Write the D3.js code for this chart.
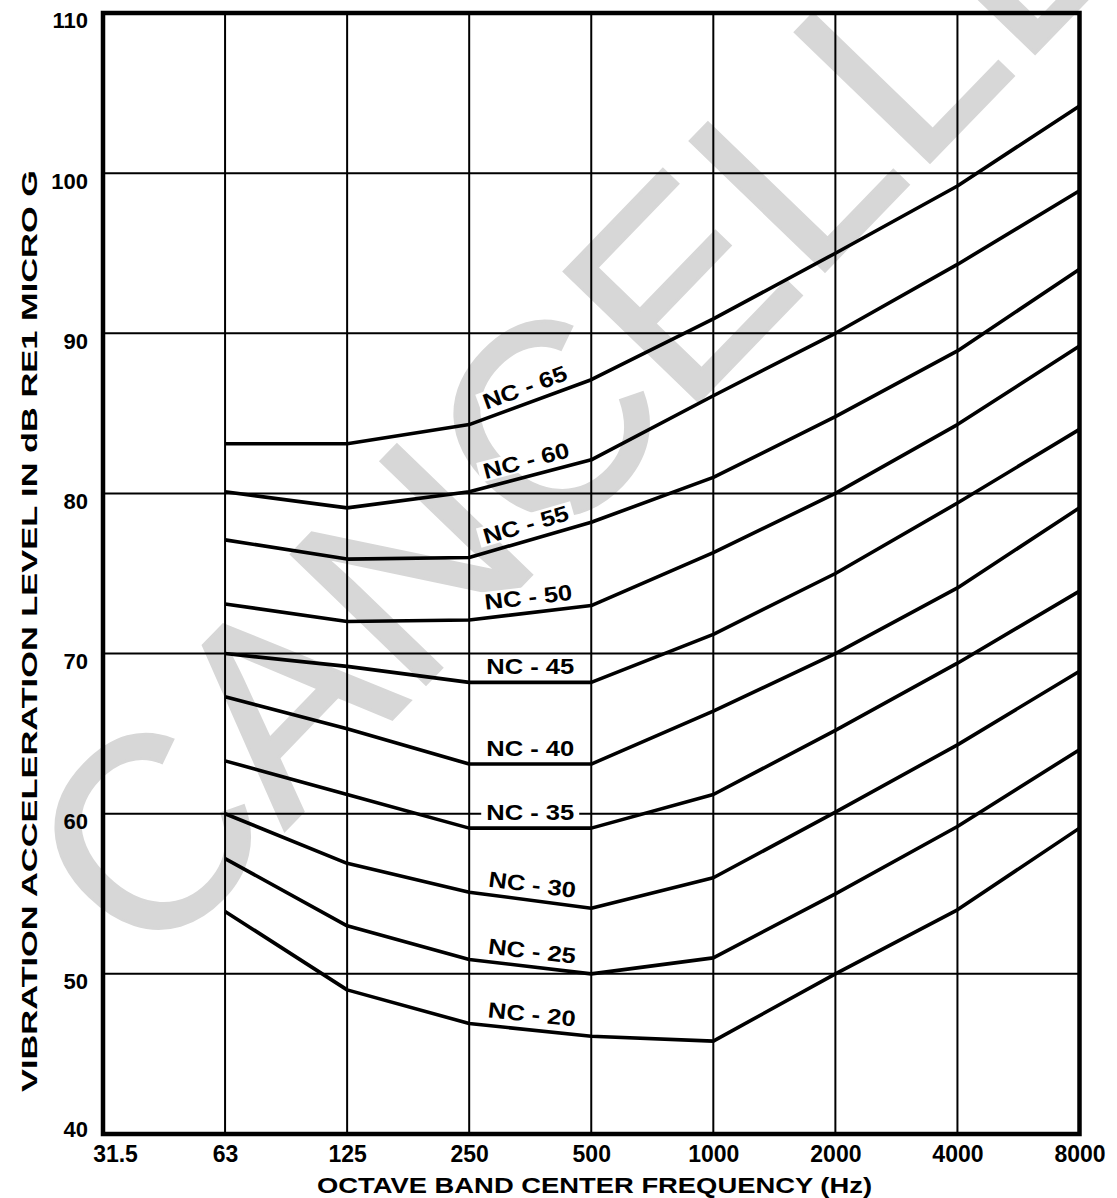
<!DOCTYPE html>
<html>
<head>
<meta charset="utf-8">
<script src="https://cdn.jsdelivr.net/npm/d3@7/dist/d3.min.js"></script>
<style>
  html, body { margin: 0; padding: 0; background: #fff; }
  svg { display: block; }
  text { font-family: "Liberation Sans", Arial, Helvetica, sans-serif; }
</style>
</head>
<body>
<svg id="chart" width="1117" height="1198"></svg>
<script>
// ---------- data ----------
const freqLabels = ["31.5", "63", "125", "250", "500", "1000", "2000", "4000", "8000"];
const curveFreqs = ["63", "125", "250", "500", "1000", "2000", "4000", "8000"];
const yTicks = [40, 50, 60, 70, 80, 90, 100, 110];

const nc20 = [53.9, 49.0, 46.9, 46.1, 45.8, 50.0, 54.0, 59.1];
const nc25 = [57.2, 53.0, 50.9, 50.0, 51.0, 55.0, 59.2, 64.0];
const nc30 = [60.0, 56.9, 55.1, 54.1, 56.0, 60.1, 64.3, 68.9];
const nc35 = [63.3, 61.2, 59.1, 59.1, 61.2, 65.2, 69.4, 73.9];
const nc40 = [67.3, 65.3, 63.1, 63.1, 66.4, 70.0, 74.1, 79.1];
const nc45 = [70.0, 69.2, 68.2, 68.2, 71.2, 75.0, 79.4, 84.0];
const nc50 = [73.1, 72.0, 72.1, 73.0, 76.3, 80.0, 84.3, 89.2];
const nc55 = [77.1, 75.9, 76.0, 78.2, 81.0, 84.8, 88.9, 94.0];
const nc60 = [80.1, 79.1, 80.1, 82.1, 86.1, 90.0, 94.3, 98.9];
const nc65 = [83.1, 83.1, 84.3, 87.1, 90.9, 95.0, 99.2, 104.2];

const seriesNames = ["NC - 20", "NC - 25", "NC - 30", "NC - 35", "NC - 40",
                     "NC - 45", "NC - 50", "NC - 55", "NC - 60", "NC - 65"];
const seriesValues = [nc20, nc25, nc30, nc35, nc40, nc45, nc50, nc55, nc60, nc65];

const xTitle = "OCTAVE BAND CENTER FREQUENCY (Hz)";
const yTitle = "VIBRATION ACCELERATION LEVEL IN dB RE1 MICRO G";
const watermark = "CANCELLED";

// ---------- layout ----------
const L = 103, R = 1079.5, T = 13, B = 1134;
const svg = d3.select("#chart");

const x = d3.scalePoint().domain(freqLabels).range([L, R]).padding(0);
const y = d3.scaleLinear().domain([40, 110]).range([B, T]);

// watermark (behind everything)
svg.append("text")
  .attr("transform", "translate(148,972) rotate(-46)")
  .attr("font-size", 272)
  .attr("font-weight", "normal")
  .attr("fill", "#d7d7d7")
  .attr("stroke", "#d7d7d7")
  .attr("stroke-width", 3)
  .text(watermark);

// grid
const grid = svg.append("g").attr("stroke", "#000").attr("stroke-width", 2);
grid.selectAll("line.v")
  .data(freqLabels.slice(1, -1))
  .join("line")
  .attr("x1", d => x(d)).attr("x2", d => x(d))
  .attr("y1", y(110)).attr("y2", y(40));
grid.selectAll("line.h")
  .data(yTicks.slice(1, -1))
  .join("line")
  .attr("x1", x("31.5")).attr("x2", x("8000"))
  .attr("y1", d => y(d)).attr("y2", d => y(d));

// curves
const line = d3.line()
  .x((d, i) => x(curveFreqs[i]))
  .y(d => y(d))
  .curve(d3.curveLinear);

svg.append("g")
  .selectAll("path")
  .data(seriesValues)
  .join("path")
  .attr("d", d => line(d))
  .attr("fill", "none")
  .attr("stroke", "#000")
  .attr("stroke-width", 3.6)
  .attr("stroke-linejoin", "round");

// curve labels placed along the 250-500 segment of each curve
const lblG = svg.append("g");
seriesValues.forEach((vals, k) => {
  const i0 = curveFreqs.indexOf("250"), i1 = curveFreqs.indexOf("500");
  const x0 = x("250"), x1 = x("500");
  const y0 = y(vals[i0]), y1 = y(vals[i1]);
  const ang = Math.atan2(y1 - y0, x1 - x0);
  const off = 16;
  const cx = (x0 + x1) / 2 + Math.sin(ang) * off;
  const cy = (y0 + y1) / 2 - Math.cos(ang) * off;
  const g = lblG.append("g")
    .attr("transform", `translate(${cx},${cy}) rotate(${ang * 180 / Math.PI})`);
  g.append("rect")
    .attr("x", -49).attr("y", -10).attr("width", 98).attr("height", 20)
    .attr("fill", "#fff");
  g.append("text")
    .attr("text-anchor", "middle")
    .attr("dy", "0.36em")
    .attr("font-size", 22)
    .attr("font-weight", "bold")
    .attr("textLength", 88)
    .attr("lengthAdjust", "spacingAndGlyphs")
    .text(seriesNames[k]);
});

// frame
svg.append("rect")
  .attr("x", L).attr("y", T).attr("width", R - L).attr("height", B - T)
  .attr("fill", "none").attr("stroke", "#000").attr("stroke-width", 4.5);

// axes
const yAxis = svg.append("g")
  .attr("transform", `translate(${L},0)`)
  .call(d3.axisLeft(y).tickValues(yTicks).tickSize(0).tickPadding(15));
yAxis.select(".domain").remove();
yAxis.selectAll("text")
  .attr("font-size", 22).attr("font-weight", "bold").attr("fill", "#000")
  .attr("font-family", "'Liberation Sans', Arial, sans-serif")
  .attr("dy", d => d === 40 ? "0.1em" : "0.68em");

const xAxis = svg.append("g")
  .attr("transform", `translate(0,${B})`)
  .call(d3.axisBottom(x).tickSize(0).tickPadding(12));
xAxis.select(".domain").remove();
xAxis.selectAll("text")
  .attr("font-size", 23).attr("font-weight", "bold").attr("fill", "#000")
  .attr("font-family", "'Liberation Sans', Arial, sans-serif");
xAxis.selectAll(".tick").filter(d => d === "31.5").select("text").attr("dx", 12);

// axis titles
svg.append("text")
  .attr("x", 317).attr("y", 1193)
  .attr("font-size", 22).attr("font-weight", "bold")
  .attr("textLength", 555).attr("lengthAdjust", "spacingAndGlyphs")
  .text(xTitle);

svg.append("text")
  .attr("transform", "translate(37,1092) rotate(-90)")
  .attr("font-size", 22).attr("font-weight", "bold")
  .attr("textLength", 922).attr("lengthAdjust", "spacingAndGlyphs")
  .text(yTitle);
</script>
</body>
</html>
